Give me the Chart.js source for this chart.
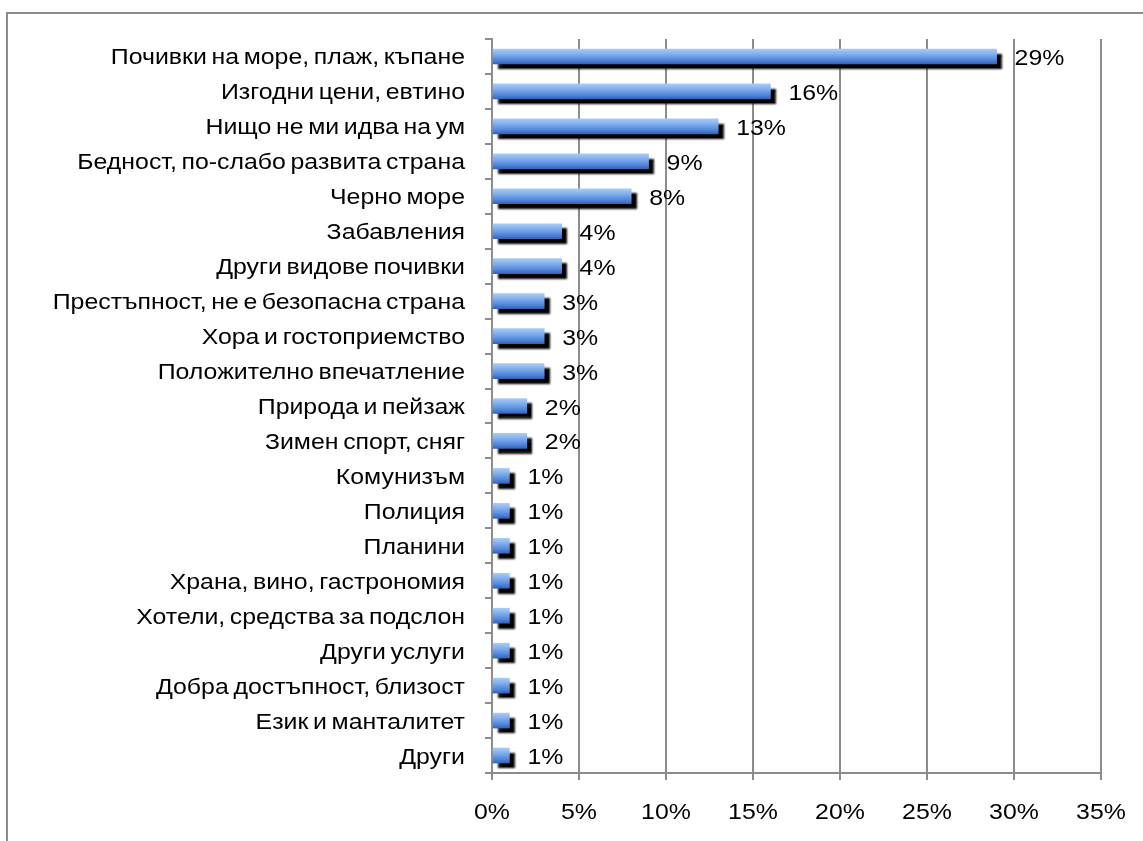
<!DOCTYPE html>
<html>
<head>
<meta charset="utf-8">
<script src="https://cdn.jsdelivr.net/npm/chart.js@4/dist/chart.umd.min.js"></script>
<style>
  html, body { margin: 0; padding: 0; background: #fff; }
  #wrap { position: relative; width: 1143px; height: 841px; overflow: hidden; }
  #frame {
    position: absolute; left: 6px; top: 12px; width: 1200px; height: 900px;
    border-left: 2px solid #8c8c8c; border-top: 2px solid #8c8c8c;
  }
  #chart { position: absolute; left: 0; top: 0; }
</style>
</head>
<body>
<div id="wrap">
  <div id="frame"></div>
  <canvas id="chart" width="1143" height="841"></canvas>
</div>
<script>
"use strict";

const categories = [
  'Почивки на море, плаж, къпане',
  'Изгодни цени, евтино',
  'Нищо не ми идва на ум',
  'Бедност, по-слабо развита страна',
  'Черно море',
  'Забавления',
  'Други видове почивки',
  'Престъпност, не е безопасна страна',
  'Хора и гостоприемство',
  'Положително впечатление',
  'Природа и пейзаж',
  'Зимен спорт, сняг',
  'Комунизъм',
  'Полиция',
  'Планини',
  'Храна, вино, гастрономия',
  'Хотели, средства за подслон',
  'Други услуги',
  'Добра достъпност, близост',
  'Език и манталитет',
  'Други',
];
const values = [29, 16, 13, 9, 8, 4, 4, 3, 3, 3, 2, 2, 1, 1, 1, 1, 1, 1, 1, 1, 1];
const xTicks = [0, 5, 10, 15, 20, 25, 30, 35];

const FONT_CSS = '22px "Liberation Sans", Arial, sans-serif';
const STRETCH = 1.13;   // labels are set a little wide
const GRID = '#8c8c8c';
const BAR_H = 15;

// bar fill: light blue on top fading to a deeper blue at the bottom
function barFill(c) {
  let chart = c.chart;
  let y = chart.scales.y;
  if (!y || c.dataIndex === undefined) return '#5b8fe0';
  let cy = y.getPixelForValue(c.dataIndex);
  if (!Number.isFinite(cy)) return '#5b8fe0';
  let g = chart.ctx.createLinearGradient(0, cy - BAR_H / 2, 0, cy + BAR_H / 2);
  g.addColorStop(0, '#a8cbf6');
  g.addColorStop(0.35, '#80aeec');
  g.addColorStop(0.75, '#4f85da');
  g.addColorStop(1, '#3563b8');
  return g;
}

function wideText(ctx, text, x, y, align) {
  ctx.save();
  ctx.translate(x, y);
  ctx.scale(STRETCH, 1);
  ctx.textAlign = align;
  ctx.fillText(text, 0, 0);
  ctx.restore();
}

// black drop shadow under the bars
const barShadow = {
  id: 'barShadow',
  beforeDatasetsDraw(chart) {
    let ctx = chart.ctx;
    ctx.save();
    ctx.shadowColor = 'rgba(0,0,0,1)';
    ctx.shadowOffsetX = 5;
    ctx.shadowOffsetY = 5;
    ctx.shadowBlur = 2;
  },
  afterDatasetsDraw(chart) {
    chart.ctx.restore();
  },
};

// category names, axis percentages and bar values
const wideLabels = {
  id: 'wideLabels',
  afterDraw(chart) {
    let ctx = chart.ctx;
    let {x, y} = chart.scales;
    ctx.save();
    ctx.font = FONT_CSS;
    ctx.fillStyle = '#000';
    ctx.textBaseline = 'alphabetic';
    if ('wordSpacing' in ctx) ctx.wordSpacing = '-2px';
    y.ticks.forEach((t, i) => {
      wideText(ctx, categories[i], y.right - 27, y.getPixelForTick(i) + 8, 'right');
    });
    xTicks.forEach(v => {
      wideText(ctx, v + '%', x.getPixelForValue(v), 819, 'center');
    });
    chart.getDatasetMeta(0).data.forEach((el, i) => {
      wideText(ctx, values[i] + '%', el.x + 18, el.y + 8.5, 'left');
    });
    ctx.restore();
  },
};

new Chart(document.getElementById('chart').getContext('2d'), {
  type: 'bar',
  data: {
    labels: categories,
    datasets: [{
      data: values,
      backgroundColor: barFill,
      borderWidth: 0,
      barThickness: BAR_H,
    }],
  },
  options: {
    indexAxis: 'y',
    responsive: false,
    animation: false,
    layout: {padding: {top: 39, right: 42, left: 0, bottom: 0}},
    plugins: {
      legend: {display: false},
      tooltip: {enabled: false},
    },
    scales: {
      x: {
        type: 'linear',
        min: 0,
        max: 35,
        afterBuildTicks: (scale) => { scale.ticks = xTicks.map(v => ({value: v})); },
        afterFit: (scale) => { scale.height = 68; },
        ticks: {display: false},
        grid: {color: GRID, lineWidth: 2, tickLength: 7},
        border: {color: GRID, width: 2},
      },
      y: {
        afterFit: (scale) => { scale.width = 492; },
        ticks: {display: false, autoSkip: false},
        grid: {drawOnChartArea: false, color: GRID, lineWidth: 2, tickLength: 7, offset: true},
        border: {color: GRID, width: 2},
      },
    },
  },
  plugins: [barShadow, wideLabels],
});
</script>
</body>
</html>
